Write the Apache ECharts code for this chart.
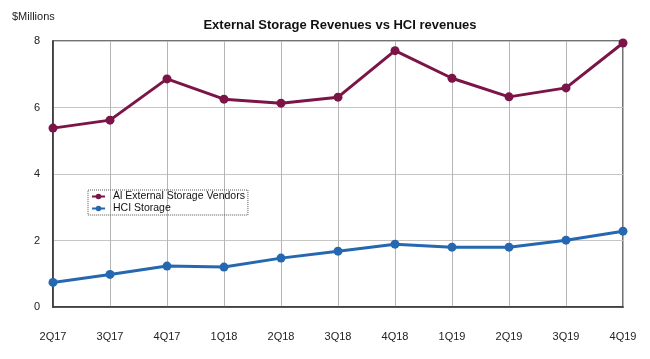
<!DOCTYPE html>
<html><head><meta charset="utf-8">
<script src="https://cdn.jsdelivr.net/npm/echarts@6/dist/echarts.min.js"></script>
<style>html,body{margin:0;padding:0;background:#fff}#c{width:650px;height:359px}</style>
</head><body><div id="c"></div>
<script>
var categories = ['2Q17','3Q17','4Q17','1Q18','2Q18','3Q18','4Q18','1Q19','2Q19','3Q19','4Q19'];
var externalStorage = [5.38, 5.62, 6.86, 6.25, 6.13, 6.31, 7.71, 6.88, 6.32, 6.59, 7.94];
var hciStorage = [0.74, 0.98, 1.23, 1.20, 1.47, 1.68, 1.89, 1.80, 1.80, 2.01, 2.28];
var yTicks = [0, 2, 4, 6, 8];
var seriesNames = ['Al External Storage Vendors', 'HCI Storage'];
var titleText = 'External Storage Revenues vs HCI revenues';
var unitText = '$Millions';

var font = '"Liberation Sans", Arial, sans-serif';
var chart = echarts.init(document.getElementById('c'), null, {renderer: 'canvas'});
chart.setOption({
  animation: false,
  backgroundColor: '#fff',
  title: [
    {text: titleText, left: 335, top: 14, textAlign: 'center',
     textStyle: {fontFamily: font, fontSize: 13, fontWeight: 'bold', color: '#111'}},
    {text: unitText, left: 7, top: 6,
     textStyle: {fontFamily: font, fontSize: 11, fontWeight: 'normal', color: '#222'}}
  ],
  grid: {left: 53, right: 27, top: 41, bottom: 52, show: true, borderColor: '#444', borderWidth: 1.5, containLabel: false},
  legend: {
    left: 88, top: 190, orient: 'vertical', itemGap: 1, itemWidth: 13, itemHeight: 7,
    padding: [1, 3, 1, 3], borderColor: '#555', borderWidth: 1, borderType: 'dotted',
    textStyle: {fontFamily: font, fontSize: 10.5, color: '#111', lineHeight: 11, padding: [0, 0, 0, 3]},
    data: seriesNames
  },
  xAxis: {
    type: 'category', data: categories, boundaryGap: false,
    axisLine: {show: true, lineStyle: {color: '#333', width: 1.5}},
    axisTick: {show: false},
    axisLabel: {margin: 24, fontFamily: font, fontSize: 11, color: '#222'},
    splitLine: {show: true, lineStyle: {color: '#b5b5b5', width: 1}}
  },
  yAxis: {
    type: 'value', min: yTicks[0], max: yTicks[yTicks.length - 1], interval: 2,
    axisLine: {show: true, lineStyle: {color: '#333', width: 1.5}},
    axisTick: {show: false},
    axisLabel: {margin: 16, fontFamily: font, fontSize: 11, color: '#222', align: 'center'},
    splitLine: {show: true, lineStyle: {color: '#c5c5c5', width: 1}}
  },
  series: [
    {name: seriesNames[0], type: 'line', data: externalStorage, symbol: 'circle', symbolSize: 9,
     lineStyle: {width: 3, color: '#7b1547'}, itemStyle: {color: '#7b1547'}},
    {name: seriesNames[1], type: 'line', data: hciStorage, symbol: 'circle', symbolSize: 9,
     lineStyle: {width: 3, color: '#2568b1'}, itemStyle: {color: '#2568b1'}}
  ]
});
</script></body></html>
